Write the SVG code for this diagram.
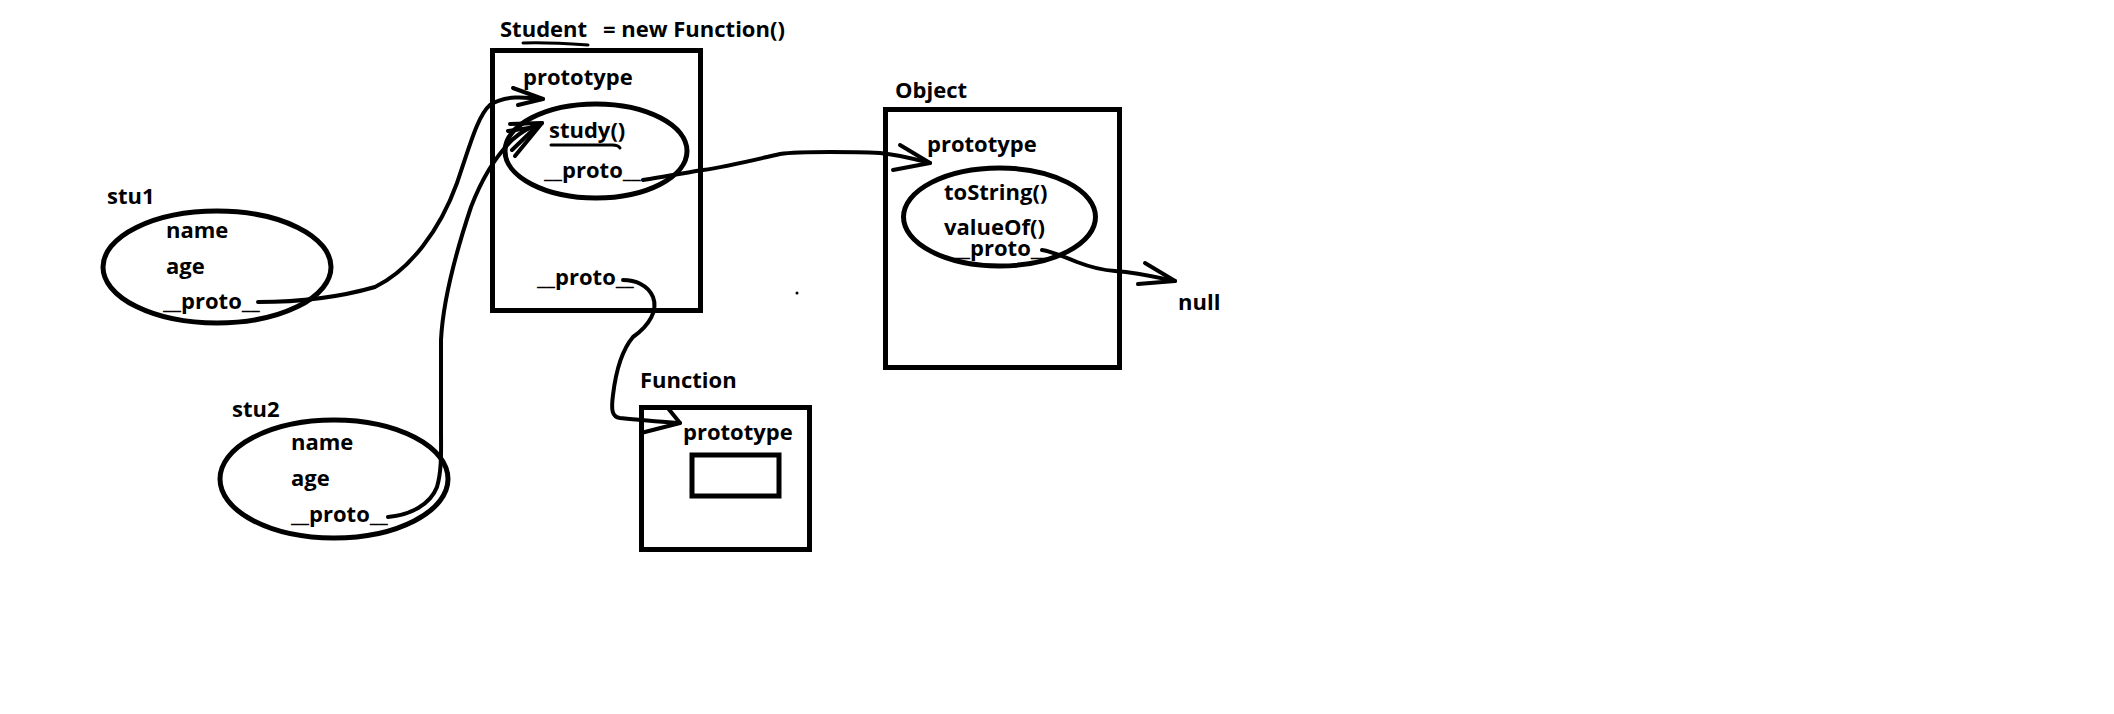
<svg xmlns="http://www.w3.org/2000/svg" width="2114" height="714" viewBox="0 0 2114 714">
<style>
text{font-family:"Open Sans","Liberation Sans",sans-serif;font-weight:bold;font-size:22px;fill:#000}
.box{fill:none;stroke:#000;stroke-width:5}
.ell{fill:none;stroke:#000;stroke-width:5}
.con path{fill:none;stroke:#000;stroke-width:4;stroke-linecap:round;stroke-linejoin:round}
.ul{fill:none;stroke:#000;stroke-width:3;stroke-linecap:round}
</style>
<rect width="2114" height="714" fill="#fff"/>
<g id="student">
<text x="500" y="37">Student</text>
<text x="603" y="37">= new Function()</text>
<path class="ul" d="M523,43 C540,42 560,43 588,45"/>
<rect class="box" x="492.5" y="50.5" width="208" height="260"/>
<text x="523" y="85">prototype</text>
<ellipse class="ell" cx="596" cy="151" rx="91" ry="47"/>
<text x="549" y="138">study()</text>
<path class="ul" d="M551,145 L612,145 C616,145 619,146 620,148"/>
<text x="544" y="178">__proto__</text>
<text x="537" y="285">__proto__</text>
</g>
<g id="stu1">
<text x="107" y="204">stu1</text>
<ellipse class="ell" cx="217" cy="267" rx="114" ry="56"/>
<text x="166" y="238">name</text>
<text x="166" y="274">age</text>
<text x="163" y="309">__proto__</text>
</g>
<g id="stu2">
<text x="232" y="417">stu2</text>
<ellipse class="ell" cx="334" cy="479" rx="114" ry="59"/>
<text x="291" y="450">name</text>
<text x="291" y="486">age</text>
<text x="291" y="522">__proto__</text>
</g>
<g id="function">
<text x="640" y="388">Function</text>
<rect class="box" x="641.5" y="407.5" width="168" height="142"/>
<text x="683" y="440">prototype</text>
<rect class="box" x="692" y="455" width="87" height="41" stroke-width="4"/>
</g>
<g id="object">
<text x="895" y="98">Object</text>
<rect class="box" x="885.5" y="109.5" width="234" height="258"/>
<text x="927" y="152">prototype</text>
<ellipse class="ell" cx="999.5" cy="217" rx="96" ry="49"/>
<text x="944" y="200">toString()</text>
<text x="944" y="235">valueOf()</text>
<text x="952" y="256">__proto__</text>
</g>
<g id="null">
<text x="1178" y="310">null</text>
</g>
<circle cx="797" cy="293" r="1.5" fill="#000"/>
<g id="connectors" class="con">
<path d="M258,302 C290,302 330,300 375,287 C410,270 440,230 457,183 C470,145 478,115 490,105 C505,95 525,97 543,99"/>
<path d="M513,88 L543,99 L518,105"/>
<path d="M388,517 C410,515 430,505 437,487 C442,470 441,450 441,430 L441,340 C443,300 455,255 471,207 C482,178 494,158 512,140 C522,131 532,126 542,123"/>
<path d="M510,124 L542,123 L515,156"/>
<path d="M508,131 L536,127 L512,150"/>
<path d="M643,180 C663,177 690,172 703,170 C725,167 745,162 780,154 C800,151 860,152 880,153 C900,155 918,160 930,163"/>
<path d="M900,145 L930,163 L893,170"/>
<path d="M623,280 C635,280 648,285 653,297 C658,310 650,325 633,337 C622,350 616,370 613,395 C611,410 612,417 620,418 C640,420 660,422 680,423"/>
<path d="M667,407 L680,423 L641,433"/>
<path d="M1042,250 C1050,251 1060,255 1077,262 C1090,267 1100,270 1115,271 C1140,273 1160,278 1175,281"/>
<path d="M1145,263 L1175,281 L1138,284"/>
</g>
</svg>
